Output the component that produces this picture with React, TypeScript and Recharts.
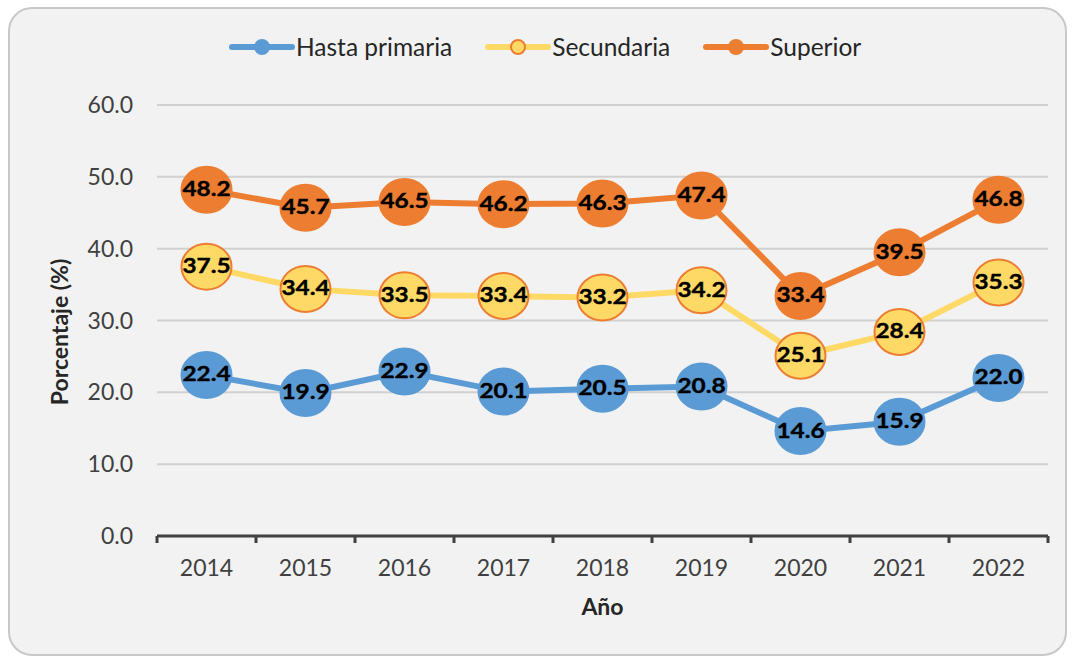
import React from 'react';
import { LineChart, Line, XAxis, YAxis, CartesianGrid, LabelList } from 'recharts';

const years = ['2014', '2015', '2016', '2017', '2018', '2019', '2020', '2021', '2022'];
const primaria = [22.4, 19.9, 22.9, 20.1, 20.5, 20.8, 14.6, 15.9, 22.0];
const secundaria = [37.5, 34.4, 33.5, 33.4, 33.2, 34.2, 25.1, 28.4, 35.3];
const superior = [48.2, 45.7, 46.5, 46.2, 46.3, 47.4, 33.4, 39.5, 46.8];
const yTicks = [0, 10, 20, 30, 40, 50, 60];

const data = years.map((year, i) => ({
  year,
  primaria: primaria[i],
  secundaria: secundaria[i],
  superior: superior[i],
}));

const W = 1075;
const H = 657;
const PLOT_LEFT = 157;
const PLOT_RIGHT = 1048;
const BAND = (PLOT_RIGHT - PLOT_LEFT) / years.length;
const FONT = 'Lato, "Noto Sans", sans-serif';

const BLUE = '#5b9bd5';
const YELLOW = '#ffd966';
const ORANGE = '#ed7d31';

const makeDot = (fill: string, stroke: string) => (props: any) => {
  const { cx, cy, index } = props;
  if (cx == null || cy == null) return <g key={index} />;
  return <ellipse key={index} cx={cx} cy={cy} rx={25} ry={23} fill={fill} stroke={stroke} strokeWidth={2} />;
};

// data labels are drawn a bit wider than tall, like the original
const renderLabel = (props: any) => {
  const { x, y, width, height, value } = props;
  const cx = x + (width || 0) / 2;
  const cy = y + (height || 0) / 2;
  return (
    <text
      transform={`translate(${cx},${cy + 1}) scale(1.16,1)`}
      textAnchor="middle"
      dominantBaseline="middle"
      fontSize={21}
      fontWeight={700}
      fill="#000"
      stroke="#000"
      strokeWidth={0.4}
      fontFamily={FONT}
    >
      {Number(value).toFixed(1)}
    </text>
  );
};

const XTick = (props: any) => {
  const { x, y, payload, index } = props;
  const half = BAND / 2;
  return (
    <g>
      <line x1={x - half} y1={y} x2={x - half} y2={y + 7} stroke="#404040" strokeWidth={3} />
      {index === years.length - 1 && (
        <line x1={x + half} y1={y} x2={x + half} y2={y + 7} stroke="#404040" strokeWidth={3} />
      )}
      <text x={x} y={y + 34} textAnchor="middle" dominantBaseline="middle" fontSize={23} fill="#404040" fontFamily={FONT}>
        {payload.value}
      </text>
    </g>
  );
};

const legendItems = [
  { name: 'Hasta primaria', line: BLUE, fill: BLUE, stroke: BLUE },
  { name: 'Secundaria', line: YELLOW, fill: YELLOW, stroke: ORANGE },
  { name: 'Superior', line: ORANGE, fill: ORANGE, stroke: ORANGE },
];

export default function App() {
  return (
    <div style={{ position: 'absolute', left: 0, top: 0, width: W, height: H, background: '#fff', fontFamily: FONT }}>
      <div
        style={{
          position: 'absolute',
          left: 8,
          top: 7,
          width: 1055,
          height: 645,
          background: '#f2f2f2',
          border: '2px solid #c8c8c8',
          borderRadius: 24,
        }}
      />
      <div style={{ position: 'absolute', top: 33, left: 229, display: 'flex', gap: 33 }}>
        {legendItems.map((it) => (
          <div key={it.name} style={{ display: 'flex', alignItems: 'center' }}>
            <svg width={66} height={28}>
              <line x1={3} y1={14} x2={63} y2={14} stroke={it.line} strokeWidth={6} strokeLinecap="round" />
              <circle cx={33} cy={14} r={7} fill={it.fill} stroke={it.stroke} strokeWidth={2} />
            </svg>
            <span style={{ fontSize: 24.5, color: '#262626', marginLeft: 1, lineHeight: '28px' }}>{it.name}</span>
          </div>
        ))}
      </div>
      <div style={{ position: 'absolute', left: 0, top: 0 }}>
        <LineChart
          width={W}
          height={H}
          data={data}
          margin={{ top: 105, right: W - PLOT_RIGHT, bottom: 71, left: 57 }}
        >
          <CartesianGrid vertical={false} stroke="#d0d0d0" strokeWidth={2} />
          <XAxis
            dataKey="year"
            height={50}
            padding={{ left: BAND / 2, right: BAND / 2 }}
            axisLine={{ stroke: '#404040', strokeWidth: 3 }}
            tickLine={false}
            tickSize={0}
            tickMargin={0}
            interval={0}
            tick={<XTick />}
            label={{
              content: (p: any) => {
                const vb = p.viewBox || {};
                return (
                  <text x={vb.x + vb.width / 2} y={609} textAnchor="middle" dominantBaseline="middle" fontSize={23} fontWeight={700} fill="#262626" fontFamily={FONT}>
                    Año
                  </text>
                );
              },
            }}
          />
          <YAxis
            width={100}
            domain={[0, 60]}
            ticks={yTicks}
            axisLine={false}
            tickLine={false}
            tickSize={0}
            tickMargin={24}
            tickFormatter={(v: number) => v.toFixed(1)}
            tick={{ fontSize: 23, fill: '#404040', fontFamily: FONT }}
            label={{
              content: () => (
                <text x={62} y={332} transform="rotate(-90 62 332)" textAnchor="middle" dominantBaseline="middle" fontSize={23} fontWeight={700} fill="#262626" fontFamily={FONT}>
                  Porcentaje (%)
                </text>
              ),
            }}
          />
          <Line
            dataKey="primaria"
            name="Hasta primaria"
            stroke={BLUE}
            strokeWidth={6}
            dot={makeDot(BLUE, BLUE)}
            activeDot={false}
            isAnimationActive={false}
          >
            <LabelList dataKey="primaria" content={renderLabel} />
          </Line>
          <Line
            dataKey="secundaria"
            name="Secundaria"
            stroke={YELLOW}
            strokeWidth={6}
            dot={makeDot(YELLOW, ORANGE)}
            activeDot={false}
            isAnimationActive={false}
          >
            <LabelList dataKey="secundaria" content={renderLabel} />
          </Line>
          <Line
            dataKey="superior"
            name="Superior"
            stroke={ORANGE}
            strokeWidth={6}
            dot={makeDot(ORANGE, ORANGE)}
            activeDot={false}
            isAnimationActive={false}
          >
            <LabelList dataKey="superior" content={renderLabel} />
          </Line>
        </LineChart>
      </div>
    </div>
  );
}
